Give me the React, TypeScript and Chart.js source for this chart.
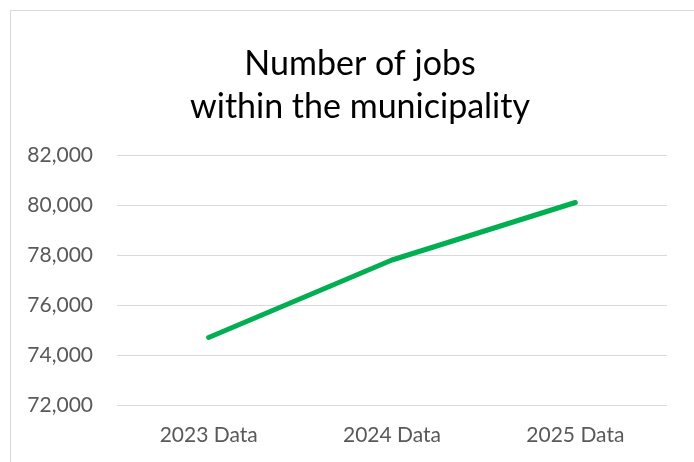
import React, { useEffect, useRef } from "react";
import { Chart, registerables } from "chart.js";

Chart.register(...registerables);

const titleLines = ["Number of jobs", "within the municipality"];
const categories = ["2023 Data", "2024 Data", "2025 Data"];
const jobs = [74700, 77800, 80100];
const yMin = 72000;
const yMax = 82000;
const yStep = 2000;

const titlePlugin = {
  id: "offsetTitle",
  afterDraw(chart: any) {
    const ctx = chart.ctx;
    ctx.save();
    ctx.font = "normal 34px Lato";
    ctx.fillStyle = "#000000";
    ctx.textAlign = "center";
    ctx.textBaseline = "middle";
    const cx = 360;
    titleLines.forEach((line, i) => {
      ctx.fillText(line, cx, 64.5 + i * 43);
    });
    ctx.restore();
  },
};

export default function App() {
  const ref = useRef<HTMLCanvasElement | null>(null);

  useEffect(() => {
    if (!ref.current) return;
    const chart = new Chart(ref.current, {
      type: "line",
      data: {
        labels: categories,
        datasets: [
          {
            label: "Jobs",
            data: jobs,
            borderColor: "#00B050",
            backgroundColor: "#00B050",
            borderWidth: 5,
            borderCapStyle: "round",
            borderJoinStyle: "round",
            pointRadius: 0,
            tension: 0,
          },
        ],
      },
      options: {
        responsive: false,
        animation: false,
        layout: { padding: { top: 155, right: 27, bottom: 0, left: 0 } },
        plugins: {
          legend: { display: false },
          tooltip: { enabled: false },
          title: { display: false },
        },
        scales: {
          x: {
            offset: true,
            grid: { display: false, drawTicks: false },
            border: { display: false },
            ticks: {
              color: "#595959",
              font: { family: "Lato", size: 21 },
              padding: 18,
              maxRotation: 0,
            },
            afterFit: (scale: any) => {
              scale.height = 57;
            },
          },
          y: {
            min: yMin,
            max: yMax,
            grid: { color: "#d9d9d9", lineWidth: 1, drawTicks: false },
            border: { display: false },
            ticks: {
              stepSize: yStep,
              color: "#595959",
              font: { family: "Lato", size: 21 },
              padding: 24,
              callback: (v: any) => Number(v).toLocaleString("en-US"),
            },
            afterFit: (scale: any) => {
              scale.width = 117;
            },
          },
        },
      },
      plugins: [titlePlugin],
    });
    return () => chart.destroy();
  }, []);

  return (
    <div
      style={{
        position: "fixed",
        left: 0,
        top: 0,
        width: 694,
        height: 462,
        overflow: "hidden",
        background: "#ffffff",
      }}
    >
      <div
        style={{
          position: "absolute",
          left: 10,
          top: 10,
          width: 740,
          height: 500,
          border: "1.5px solid #d9d9d9",
          boxSizing: "border-box",
        }}
      />
      <canvas
        ref={ref}
        width={694}
        height={462}
        style={{ position: "absolute", left: 0, top: 0, width: 694, height: 462 }}
      />
    </div>
  );
}
